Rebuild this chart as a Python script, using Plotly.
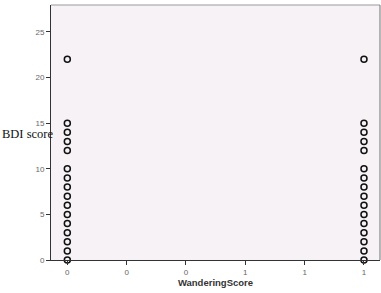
import plotly.graph_objects as go

bdi_scores = [0, 1, 2, 3, 4, 5, 6, 7, 8, 9, 10, 12, 13, 14, 15, 22]
wandering_groups = [0, 1]
x_tick_vals = [0, 0.2, 0.4, 0.6, 0.8, 1.0]
x_tick_text = ["0", "0", "0", "1", "1", "1"]
y_tick_vals = [0, 5, 10, 15, 20, 25]

xs, ys = [], []
for g in wandering_groups:
    for s in bdi_scores:
        xs.append(g)
        ys.append(s)

fig = go.Figure()
fig.add_trace(go.Scatter(
    x=xs, y=ys, mode="markers",
    marker=dict(symbol="circle-open", size=6, color="#111111", line=dict(width=1.5, color="#111111")),
    cliponaxis=False, showlegend=False,
))

fig.update_layout(
    width=381, height=293,
    margin=dict(l=51, r=1, t=5, b=33),
    paper_bgcolor="white",
    plot_bgcolor="#F6F2F5",
    font=dict(family="Liberation Sans, Arial, sans-serif", color="#555555", size=8),
    xaxis=dict(
        range=[-0.055, 1.054], tickvals=x_tick_vals, ticktext=x_tick_text,
        showgrid=False, zeroline=False, showline=True, linecolor="#333333", linewidth=1,
        ticks="outside", ticklen=4, tickcolor="#333333", tickfont=dict(size=8, color="#666666"),
        title=dict(text="<b>WanderingScore</b>", font=dict(size=9.5, color="#333333", family="Liberation Sans, Arial, sans-serif"), standoff=2),
    ),
    yaxis=dict(
        range=[0, 27.95], tickvals=y_tick_vals,
        showgrid=False, zeroline=False, showline=True, linecolor="#333333", linewidth=1,
        ticks="outside", ticklen=4, tickcolor="#333333", tickfont=dict(size=8, color="#666666"),
    ),
    shapes=[
        dict(type="line", xref="paper", yref="paper", x0=0, x1=1, y0=1, y1=1, line=dict(color="#999999", width=1.2)),
        dict(type="line", xref="paper", yref="paper", x0=1, x1=1, y0=0, y1=1, line=dict(color="#888888", width=1.2)),
    ],
    annotations=[
        dict(text="BDI score", xref="paper", yref="y", x=-0.155, y=13.8, xanchor="left", yanchor="middle",
             showarrow=False, font=dict(family="Liberation Serif, Times New Roman, serif", size=12.5, color="#111111")),
    ],
)

fig.write_html("out.html")
